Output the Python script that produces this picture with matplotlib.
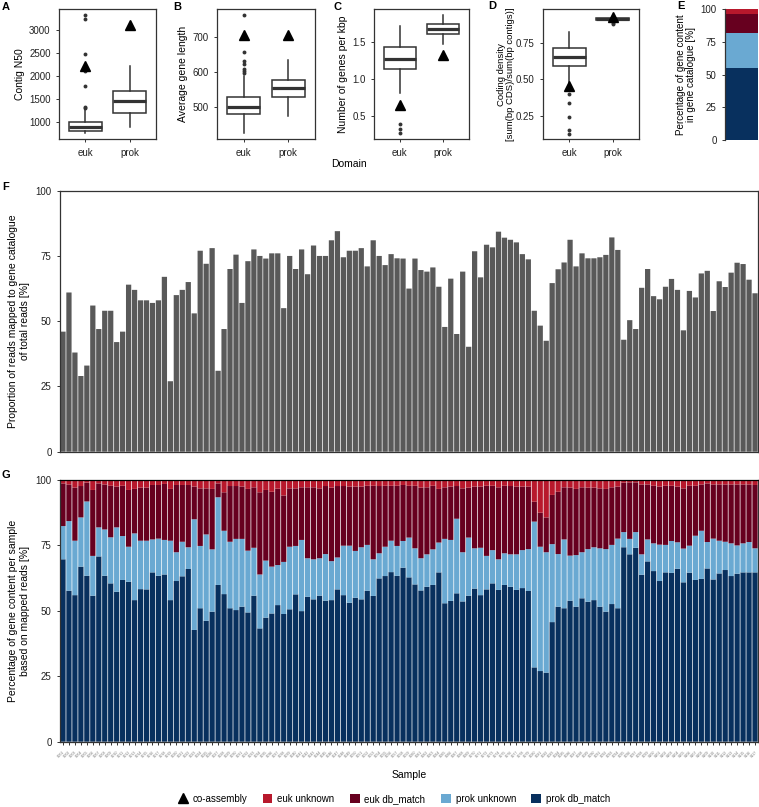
import numpy as np
import matplotlib.pyplot as plt
from matplotlib.patches import Patch
from matplotlib.lines import Line2D

plt.rcParams['font.family'] = ['Liberation Sans', 'DejaVu Sans']

# ---- data ----
domains = ['euk', 'prok']

n50_box = [(760, 805, 880, 1000, 1280), (880, 1200, 1450, 1670, 2220)]
n50_fliers = [[1300, 1330, 1790, 2120, 2490, 3240, 3330], []]
n50_coassembly = [2210, 3110]

genelen_box = [(424, 479, 500, 528, 588), (472, 529, 553, 576, 633)]
genelen_fliers = [[598, 603, 608, 622, 630, 657, 765], []]
genelen_coassembly = [705, 706]

genes_kbp_box = [(0.81, 1.135, 1.27, 1.425, 1.71), (1.47, 1.60, 1.665, 1.735, 1.86)]
genes_kbp_fliers = [[0.39, 0.33, 0.27], []]
genes_kbp_coassembly = [0.655, 1.32]

coding_box = [(0.445, 0.59, 0.65, 0.715, 0.82), (0.897, 0.905, 0.912, 0.918, 0.93)]
coding_fliers = [[0.40, 0.335, 0.24, 0.155, 0.13], [0.875, 0.885]]
coding_coassembly = [0.455, 0.925]

# panel E: gene catalogue composition [%]
catalogue_classes = ['prok db_match', 'prok unknown', 'euk db_match', 'euk unknown']
catalogue_pct = [54.9, 26.8, 14.5, 3.8]

# panel F: proportion of reads mapped [%]
mapped_pct = [46, 61, 38, 29, 33, 56, 47, 54, 54, 42, 46, 64, 62, 58, 58, 57, 58, 67, 27, 60,
              62, 65, 53, 77, 72, 78, 31, 47, 70, 75.5, 57, 73, 77.5, 75, 74, 76, 76, 55, 75, 70,
              77.5, 68, 79, 75, 75, 81, 84.5, 74.5, 77, 77, 78, 71, 81, 75, 71.5, 75.7, 74.1, 74,
              62.5, 74, 69.6, 69, 70.6, 63.2, 47.8, 66.3, 45.1, 69, 40.2, 76.8, 66.8, 79.3, 78.3,
              84.3, 82, 81.2, 80.2, 75.7, 73.7, 54, 48.3, 42.5, 64.6, 69.9, 72.5, 81.2, 71, 76,
              74.1, 74.1, 74.5, 75.4, 82.1, 77.3, 42.9, 50.4, 47, 62.8, 70, 59.6, 58.4, 63.2, 66.2,
              62, 46.5, 61.6, 59.1, 68.3, 69.3, 53.9, 65.3, 63.1, 68.6, 72.4, 71.9, 65.9, 60.7]

# panel G: cumulative boundaries per sample [%]
top_prok_db = [69.7, 57.7, 56, 66.9, 63.4, 55.8, 70.8, 63.4, 60.5, 57.3, 61.8, 61.1, 54.1, 58.3,
               58.2, 64.7, 63.4, 63.9, 54.1, 61.4, 63.2, 66, 42.7, 51, 46.2, 49.7, 59.9, 56.4,
               51, 50.3, 51.6, 49.4, 55.8, 43.3, 47.4, 49, 52.2, 48.8, 50.6, 56.3, 49.9, 55.4,
               54.4, 55.8, 53.9, 54.1, 58.2, 56, 53.1, 55, 54.4, 57.7, 55.7, 62.4, 63.3, 64.8,
               63.4, 66.5, 62.8, 60.1, 57.8, 59.2, 59.9, 64.7, 52.9, 53.8, 56.7, 53.6, 55.8,
               58.5, 56, 58.2, 60.5, 58, 59.9, 59.2, 58, 58.7, 57.6, 28.4, 27, 26.4, 45.7, 51.6,
               51, 53.9, 51.6, 54.8, 53.5, 54.1, 51.6, 49.7, 52.6, 51, 74.3, 71.6, 74.1, 63.8,
               68.9, 65.2, 61.4, 64.7, 64.5, 66.1, 60.9, 64.6, 61.8, 62.2, 66.2, 62, 64.3, 65.6,
               63.3, 64.2, 64.7, 64.7, 64.7]
top_prok_unknown = [82.4, 84.3, 76.8, 85.7, 91.8, 71, 81.9, 81.1, 78.1, 81.9, 78.6, 74.5, 79.6,
                    76.8, 76.8, 77.3, 77.6, 77.1, 76.8, 72.4, 76.4, 74.3, 85, 74.8, 79.2, 73.5,
                    93.4, 80.6, 76.4, 77.5, 77.5, 73, 74.1, 63.9, 69.2, 66.9, 67.5, 68.7, 74.5,
                    74.8, 77.1, 70.1, 69.7, 70.1, 71.7, 69, 70.4, 74.9, 74.9, 72.9, 74.3, 75.2,
                    69.7, 72, 74.5, 76.8, 74.8, 76.7, 78, 73.9, 70.1, 71.6, 73.5, 76.1, 77.5,
                    77.1, 85.2, 72.4, 78, 73.9, 74.1, 71, 73.2, 69.7, 72, 71.6, 71.6, 73.2, 73.6,
                    84.1, 74.5, 72.4, 75.5, 71.7, 77.3, 71.1, 71.3, 72.4, 73.6, 74.3, 73.9, 73.6,
                    75.2, 77.6, 80.1, 77.5, 80.1, 71.6, 77.3, 75.8, 75.3, 75.2, 76.7, 76.2, 73.8,
                    74.9, 78.7, 80.6, 76.3, 77.6, 76.8, 76.4, 75.8, 75, 75.8, 76.3, 73.9]
top_euk_db = [98.7, 98.3, 97.1, 97.7, 99, 96.2, 98.7, 98.3, 97.8, 97.5, 97.8, 96.2, 96.6, 97.1,
              97.1, 98.1, 98.1, 98.5, 96.6, 98.1, 98.1, 98.1, 97.5, 96.8, 96.8, 96.6, 98.7, 95.3,
              97.7, 97.7, 97.5, 96.6, 97.2, 95.3, 96.2, 95.5, 96.7, 94.1, 96.8, 96.8, 97.2, 97.2,
              97.2, 96.8, 97.7, 97.1, 97.7, 97.7, 97.5, 97.5, 97.5, 97.8, 97.8, 97.7, 97.8, 97.8,
              97.8, 98.1, 97.8, 97.8, 97.1, 97.2, 97.8, 96.6, 97.2, 97.5, 97.7, 96.8, 97.1, 97.5,
              97.5, 97.8, 97.8, 97.2, 97.8, 97.7, 97.5, 97.5, 97.5, 91.7, 87.5, 85.7, 94.3, 95.5,
              97.2, 97.1, 96.6, 97.2, 97.1, 97.1, 96.8, 96.6, 97.2, 97.5, 99, 99.1, 99.1, 98.3,
              98.3, 97.8, 97.5, 97.8, 97.8, 97.5, 96.8, 97.8, 97.8, 98.3, 98.7, 98.3, 98.3, 98.3,
              98.3, 98.3, 98.3, 98.3, 98.1]

# sample names are illegible in the reference, placeholders
samples = ['S%03d' % i for i in range(1, len(mapped_pct) + 1)]

colors = {'euk unknown': '#B8182C', 'euk db_match': '#67001F',
          'prok unknown': '#6AA9D2', 'prok db_match': '#08305E'}

W, H = 759, 807
fig = plt.figure(figsize=(W / 100, H / 100), dpi=100)

edge = '#333333'


def px_axes(x0, x1, y0, y1):
    return fig.add_axes([x0 / W, 1 - y1 / H, (x1 - x0) / W, (y1 - y0) / H])


def style(ax):
    for s in ax.spines.values():
        s.set_color(edge)
        s.set_linewidth(0.9)
    ax.tick_params(colors=edge, labelcolor='#222222', labelsize=7, length=2.5, width=0.7)


def box_panel(ax, box, fliers, co, ylim, ticks, ticklabels, ylabel, pad=3):
    stats = []
    for (lo, q1, med, q3, hi), fl in zip(box, fliers):
        stats.append(dict(whislo=lo, q1=q1, med=med, q3=q3, whishi=hi, fliers=fl))
    ax.bxp(stats, positions=[1, 2], widths=0.75, showcaps=False, patch_artist=True,
           boxprops=dict(facecolor='white', edgecolor=edge, linewidth=1.1),
           whiskerprops=dict(color=edge, linewidth=1.1),
           medianprops=dict(color=edge, linewidth=2.3),
           flierprops=dict(marker='o', markersize=2.8, markerfacecolor=edge,
                           markeredgecolor='none'))
    ax.plot([1, 2], co, linestyle='none', marker='^', markersize=7.5, color='black', zorder=5)
    ax.set_xlim(0.4, 2.6)
    ax.set_ylim(*ylim)
    ax.set_xticks([1, 2])
    ax.set_xticklabels(domains)
    ax.set_yticks(ticks)
    ax.set_yticklabels(ticklabels)
    ax.set_ylabel(ylabel, fontsize=7.5, labelpad=pad)
    style(ax)


axA = px_axes(59, 156, 9.3, 139.3)
box_panel(axA, n50_box, n50_fliers, n50_coassembly, (614, 3460),
          [1000, 1500, 2000, 2500, 3000], ['1000', '1500', '2000', '2500', '3000'], 'Contig N50')

axB = px_axes(217, 315, 9.3, 139.3)
box_panel(axB, genelen_box, genelen_fliers, genelen_coassembly, (406, 780),
          [500, 600, 700], ['500', '600', '700'], 'Average gene length')

axC = px_axes(374, 469, 9.3, 139.3)
box_panel(axC, genes_kbp_box, genes_kbp_fliers, genes_kbp_coassembly, (0.19, 1.934),
          [0.5, 1.0, 1.5], ['0.5', '1.0', '1.5'], 'Number of genes per kbp')

axD = px_axes(543, 639, 9.3, 139.3)
box_panel(axD, coding_box, coding_fliers, coding_coassembly, (0.091, 0.977),
          [0.25, 0.50, 0.75], ['0.25', '0.50', '0.75'],
          'Coding density\n[sum(bp CDS)/sum(bp contigs)]', pad=1)
axD.yaxis.label.set_linespacing(1.0)
axD.yaxis.label.set_fontsize(6.8)

# panel E
axE = px_axes(725, 758, 9.3, 140)
bottom = 0
for cls, val in zip(catalogue_classes, catalogue_pct):
    axE.bar(0, val, width=1.0, bottom=bottom, color=colors[cls], linewidth=0)
    bottom += val
axE.set_xlim(-0.5, 0.5)
axE.set_ylim(0, 100)
axE.set_yticks([0, 25, 50, 75, 100])
axE.set_xticks([])
for s in ['top', 'right', 'bottom']:
    axE.spines[s].set_visible(False)
axE.set_ylabel('Percentage of gene content\nin gene catalogue [%]', fontsize=7.1, labelpad=3,
               linespacing=1.0)
style(axE)

fig.text(349 / W, 1 - 164 / H, 'Domain', ha='center', va='center', fontsize=7.5)

x = np.arange(1, len(mapped_pct) + 1)

# panel F
axF = px_axes(60, 758, 190.7, 451.7)
axF.bar(x, mapped_pct, width=0.88, color='#595959', linewidth=0, snap=False)
axF.set_xlim(0.5, len(x) + 0.5)
axF.set_ylim(0, 100)
axF.set_yticks([0, 25, 50, 75, 100])
axF.set_xticks([])
axF.set_ylabel('Proportion of reads mapped to gene catalogue\nof total reads [%]',
               fontsize=7.5, labelpad=4)
style(axF)

# panel G
axG = px_axes(60, 758, 480, 741.7)
b1 = np.array(top_prok_db)
b2 = np.array(top_prok_unknown)
b3 = np.array(top_euk_db)
kw = dict(width=0.88, linewidth=0, snap=False)
axG.bar(x, b1, color=colors['prok db_match'], **kw)
axG.bar(x, b2 - b1, bottom=b1, color=colors['prok unknown'], **kw)
axG.bar(x, b3 - b2, bottom=b2, color=colors['euk db_match'], **kw)
axG.bar(x, 100 - b3, bottom=b3, color=colors['euk unknown'], **kw)
axG.set_xlim(0.5, len(x) + 0.5)
axG.set_ylim(0, 100)
axG.set_yticks([0, 25, 50, 75, 100])
axG.set_xticks(x)
axG.set_xticklabels(samples, rotation=45, ha='right', rotation_mode='anchor')
axG.set_ylabel('Percentage of gene content per sample\nbased on mapped reads [%]',
               fontsize=7.5, labelpad=4)
style(axG)
axG.spines['top'].set_color('black')
axG.tick_params(axis='x', labelsize=2.6, labelcolor='#777777', length=2.5)
fig.text(409 / W, 1 - 775 / H, 'Sample', ha='center', va='center', fontsize=7.5)

# panel letters
for lab, px, py in [('A', 2, 2), ('B', 173, 2), ('C', 333, 2), ('D', 488, 1), ('E', 677, 1),
                    ('F', 2, 182), ('G', 2, 470)]:
    fig.text(px / W, 1 - py / H, lab, fontsize=8, fontweight='bold', va='top', ha='left')

handles = [Line2D([], [], linestyle='none', marker='^', markersize=7, color='black')]
labels = ['co-assembly']
for cls in ['euk unknown', 'euk db_match', 'prok unknown', 'prok db_match']:
    handles.append(Patch(facecolor=colors[cls], edgecolor='none'))
    labels.append(cls)
fig.legend(handles, labels, loc='center', bbox_to_anchor=(394 / W, 1 - 799 / H), ncol=5,
           frameon=False, fontsize=7, handlelength=1.0, handleheight=1.0, columnspacing=1.6,
           handletextpad=0.5)

fig.savefig('out.png', dpi=100)
